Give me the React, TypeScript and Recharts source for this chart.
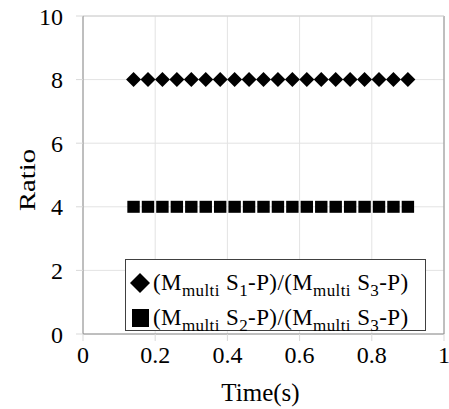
import { ScatterChart, Scatter, XAxis, YAxis, CartesianGrid, Legend, ReferenceLine } from 'recharts';

const FONT = 'Liberation Serif';

const times = [0.14, 0.18, 0.22, 0.26, 0.3, 0.34, 0.38, 0.42, 0.46, 0.5, 0.54, 0.58, 0.62, 0.66, 0.7, 0.74, 0.78, 0.82, 0.86, 0.9];
const ratioS1 = [8, 8, 8, 8, 8, 8, 8, 8, 8, 8, 8, 8, 8, 8, 8, 8, 8, 8, 8, 8];
const ratioS2 = [4, 4, 4, 4, 4, 4, 4, 4, 4, 4, 4, 4, 4, 4, 4, 4, 4, 4, 4, 4];
const xTicks = [0, 0.2, 0.4, 0.6, 0.8, 1];
const yTicks = [0, 2, 4, 6, 8, 10];

const s1Data = times.map((t, i) => ({ x: t, y: ratioS1[i] }));
const s2Data = times.map((t, i) => ({ x: t, y: ratioS2[i] }));

const Diamond = ({ cx, cy }: any) => (
  <polygon points={`${cx},${cy - 7.5} ${cx + 7.5},${cy} ${cx},${cy + 7.5} ${cx - 7.5},${cy}`} fill="#000" />
);

const Square = ({ cx, cy }: any) => (
  <rect x={cx - 6.2} y={cy - 6} width={12.4} height={12} fill="#000" />
);

const XTick = ({ x, y, payload }: any) => (
  <text x={x} y={y} dy="0.71em" textAnchor="middle" fontFamily={FONT} fontSize={24} fill="#000">
    {payload.value}
  </text>
);

const YTick = ({ x, y, payload }: any) => (
  <text x={x} y={y} dy="0.36em" textAnchor="end" fontFamily={FONT} fontSize={24} fill="#000">
    {payload.value}
  </text>
);

const sub = { fontSize: 17, verticalAlign: 'sub', lineHeight: 0 } as const;

function LegendBox() {
  const row = { display: 'flex', alignItems: 'center', height: 35 } as const;
  return (
    <div style={{
      width: 301, height: 72, boxSizing: 'border-box', border: '1px solid #404040',
      background: '#fff', fontFamily: FONT, fontSize: 23, letterSpacing: 0.4, color: '#000',
      paddingLeft: 3, paddingTop: 5, whiteSpace: 'nowrap',
    }}>
      <div style={row}>
        <svg width={22} height={22} style={{ marginRight: 2 }}>
          <polygon points="11,1 21,11 11,21 1,11" fill="#000" />
        </svg>
        <span>(M<span style={sub}>multi</span> S<span style={sub}>1</span>-P)/(M<span style={sub}>multi</span> S<span style={sub}>3</span>-P)</span>
      </div>
      <div style={row}>
        <svg width={22} height={22} style={{ marginRight: 2 }}>
          <rect x={3} y={2} width={17} height={18} fill="#000" />
        </svg>
        <span>(M<span style={sub}>multi</span> S<span style={sub}>2</span>-P)/(M<span style={sub}>multi</span> S<span style={sub}>3</span>-P)</span>
      </div>
    </div>
  );
}

const YLabel = ({ viewBox }: any) => {
  const x = 35;
  const y = viewBox.y + viewBox.height / 2 + 5;
  return (
    <text x={x} y={y} transform={`rotate(-90 ${x} ${y})`} textAnchor="middle"
      fontFamily={FONT} fontSize={24} textLength={62} lengthAdjust="spacingAndGlyphs" fill="#000">Ratio</text>
  );
};

const XLabel = ({ viewBox }: any) => (
  <text x={viewBox.x + viewBox.width / 2 - 3} y={viewBox.y + 67} textAnchor="middle"
    fontFamily={FONT} fontSize={25} fill="#000">Time(s)</text>
);

export default function App() {
  return (
    <div style={{ position: 'absolute', left: 0, top: 0, background: '#fff' }}>
      <ScatterChart width={449} height={409} margin={{ top: 16, right: 5, left: 0, bottom: 0 }}>
        <CartesianGrid stroke="#e3e3e3" />
        <XAxis type="number" dataKey="x" domain={[0, 1]} ticks={xTicks} interval={0}
          height={75} tickSize={7} tickMargin={5}
          axisLine={{ stroke: '#8c8c8c' }} tickLine={{ stroke: '#d9d9d9' }}
          tick={<XTick />}
          label={<XLabel />} />
        <YAxis type="number" dataKey="y" domain={[0, 10]} ticks={yTicks} interval={0}
          width={83} tickSize={7} tickMargin={13}
          axisLine={{ stroke: '#8c8c8c' }} tickLine={{ stroke: '#d9d9d9' }}
          tick={<YTick />}
          label={<YLabel />} />
        <ReferenceLine x={1} stroke="#8c8c8c" />
        <ReferenceLine y={10} stroke="#d0d0d0" />
        <Scatter name="S1" data={s1Data} shape={<Diamond />} isAnimationActive={false} />
        <Scatter name="S2" data={s2Data} shape={<Square />} isAnimationActive={false} />
        <Legend layout="vertical" align="center" verticalAlign="middle"
          wrapperStyle={{ position: 'absolute', left: 125, top: 259, width: 301, height: 72 }}
          content={() => <LegendBox />} />
      </ScatterChart>
    </div>
  );
}
